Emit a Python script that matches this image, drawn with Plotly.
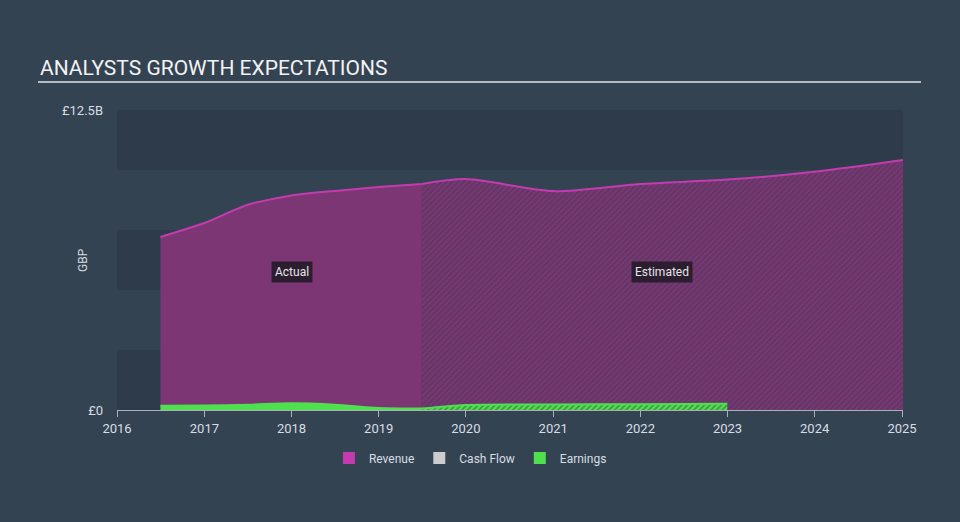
import plotly.graph_objects as go

# ---- data (GBP billions) ----
rev_actual_dates = ["2016-07-01", "2017-01-01", "2017-07-01", "2018-01-01", "2018-07-01", "2019-01-01", "2019-07-01"]
rev_actual_vals = [7.21, 7.79, 8.55, 8.94, 9.13, 9.29, 9.42]

rev_est_dates = ["2019-07-01", "2019-12-31", "2020-12-31", "2021-12-31", "2022-12-31", "2023-12-31", "2025-01-05"]
rev_est_vals = [9.42, 9.62, 9.12, 9.42, 9.60, 9.93, 10.42]

earn_actual_dates = ["2016-07-01", "2017-01-01", "2017-07-01", "2018-01-01", "2018-07-01", "2019-01-01", "2019-07-01"]
earn_actual_vals = [0.18, 0.19, 0.22, 0.28, 0.22, 0.08, 0.06]

earn_est_dates = ["2019-07-01", "2019-12-31", "2020-12-31", "2021-12-31", "2022-12-31"]
earn_est_vals = [0.06, 0.21, 0.23, 0.24, 0.26]

x_ticks = ["2016", "2017", "2018", "2019", "2020", "2021", "2022", "2023", "2024", "2025"]
y_tick_vals = [0, 12.5]
y_tick_text = ["£0", "£12.5B"]
legend_names = ["Revenue", "Cash Flow", "Earnings"]

# ---- styles ----
BG = "#344352"
BAND = "#2e3b4a"
REV_FILL = "#7b3673"
REV_LINE = "#c43bb0"
EARN = "#4fe04f"
CASH = "#cccccc"
TXT = "#d8dde2"
FONT = "Roboto"

fig = go.Figure()

# Revenue actual
fig.add_trace(go.Scatter(
    x=rev_actual_dates, y=rev_actual_vals, mode="lines",
    line=dict(color=REV_LINE, width=2, shape="spline", smoothing=0.6),
    fill="tozeroy", fillcolor=REV_FILL, showlegend=False, hoverinfo="skip"))
# Revenue estimated (hatched)
fig.add_trace(go.Scatter(
    x=rev_est_dates, y=rev_est_vals, mode="lines",
    line=dict(color=REV_LINE, width=2, shape="spline", smoothing=0.8),
    fill="tozeroy", fillcolor=REV_FILL,
    fillpattern=dict(shape="/", fgcolor="#3b3a52", bgcolor=REV_FILL, size=4, solidity=0.45),
    showlegend=False, hoverinfo="skip"))
# Earnings actual
fig.add_trace(go.Scatter(
    x=earn_actual_dates, y=earn_actual_vals, mode="lines",
    line=dict(color=EARN, width=2, shape="spline", smoothing=0.8),
    fill="tozeroy", fillcolor=EARN, showlegend=False, hoverinfo="skip"))
# Earnings estimated
fig.add_trace(go.Scatter(
    x=earn_est_dates, y=earn_est_vals, mode="lines",
    line=dict(color=EARN, width=2, shape="spline", smoothing=0.8),
    fill="tozeroy", fillcolor=EARN,
    fillpattern=dict(shape="/", fgcolor="#3b4a44", bgcolor=EARN, size=4, solidity=0.45),
    showlegend=False, hoverinfo="skip"))

# Legend entries
for name, col in zip(legend_names, [REV_LINE, CASH, EARN]):
    fig.add_trace(go.Scatter(
        x=[None], y=[None], mode="markers", name=name,
        marker=dict(symbol="square", size=16, color=col)))

# horizontal bands
bands = [(0, 2.5), (5, 7.5), (10, 12.5)]
shapes = []
for y0, y1 in bands:
    shapes.append(dict(type="rect", xref="paper", yref="y", x0=0, x1=1, y0=y0, y1=y1,
                       fillcolor=BAND, line=dict(width=0), layer="below"))
# title underline
shapes.append(dict(type="line", xref="paper", yref="paper", x0=-0.1005, x1=1.0229,
                   y0=1.0933, y1=1.0933, line=dict(color="#b5bcc3", width=2)))

annotations = [
    dict(text="ANALYSTS GROWTH EXPECTATIONS", xref="paper", yref="paper", x=-0.1005, y=1.14,
         xanchor="left", yanchor="middle", showarrow=False,
         font=dict(family=FONT, size=21, color="#f2f2f2")),
    dict(text="GBP", xref="paper", yref="paper", x=-0.0433, y=0.5, textangle=-90,
         xanchor="center", yanchor="middle", showarrow=False,
         font=dict(family=FONT, size=12, color=TXT)),
    dict(text="Actual", xref="x", yref="y", x="2018-01-01", y=5.75, showarrow=False,
         bgcolor="#2c1e30", font=dict(family=FONT, size=12, color="#e6e6e6"), borderpad=3),
    dict(text="Estimated", xref="x", yref="y", x="2022-04-01", y=5.75, showarrow=False,
         bgcolor="#2c1e30", font=dict(family=FONT, size=12, color="#e6e6e6"), borderpad=3),
]

fig.update_layout(
    width=960, height=522,
    paper_bgcolor=BG, plot_bgcolor=BG,
    margin=dict(l=117, r=57, t=110, b=112, autoexpand=False),
    font=dict(family=FONT, color=TXT),
    shapes=shapes, annotations=annotations,
    legend=dict(orientation="h", xref="container", yref="container", x=0.49, y=0.1226,
                xanchor="center", yanchor="middle", font=dict(family=FONT, size=12, color=TXT),
                itemsizing="constant", bgcolor="rgba(0,0,0,0)"),
    xaxis=dict(type="date", range=["2016-01-01", "2025-01-05"],
               tickvals=[t + "-01-01" for t in x_ticks], ticktext=x_ticks,
               showgrid=False, zeroline=False, showline=True, linecolor="#a9b0b8", linewidth=1,
               ticks="outside", ticklen=6, tickcolor="#a9b0b8",
               tickfont=dict(family=FONT, size=13, color=TXT)),
    yaxis=dict(range=[0, 12.5], tickvals=y_tick_vals, ticktext=y_tick_text,
               showgrid=False, zeroline=False, showline=False, ticks="",
               ticklabelstandoff=13,
               tickfont=dict(family=FONT, size=13, color=TXT)),
)

fig.write_html("out.html")
